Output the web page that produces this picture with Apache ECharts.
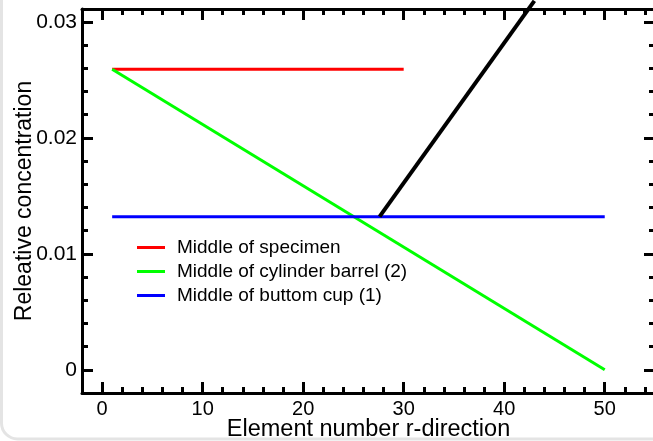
<!DOCTYPE html>
<html>
<head>
<meta charset="utf-8">
<script src="https://cdn.jsdelivr.net/npm/echarts@6/dist/echarts.min.js"></script>
<style>html,body{margin:0;padding:0;background:#fff;}#c{width:653px;height:441px;}</style>
</head>
<body>
<div id="c"></div>
<script>
// Data
const specimenX = [1, 30];
const specimenY = [0.0259, 0.0259];
const barrelX = [1, 50];
const barrelY = [0.0259, 0.0];
const cupX = [1, 50];
const cupY = [0.0132, 0.0132];
const pointerX = [27.6, 43.0];
const pointerY = [0.0132, 0.0318];
const xMajorTicks = [0, 10, 20, 30, 40, 50];
const xMinorTicks = [2,4,6,8,12,14,16,18,22,24,26,28,32,34,36,38,42,44,46,48,52,54];
const yMajorTicks = [0, 0.01, 0.02, 0.03];
const yMinorTicks = [0.002,0.004,0.006,0.008,0.012,0.014,0.016,0.018,0.022,0.024,0.026,0.028];
const seriesNames = ['Middle of specimen', 'Middle of cylinder barrel (2)', 'Middle of buttom cup (1)'];

const pair = (xs, ys) => xs.map((x, i) => [x, ys[i]]);
const FONT = 'Liberation Sans, Arial, Helvetica, sans-serif';
const X_MIN = -2, X_MAX = 55, Y_MIN = -0.002, Y_MAX = 0.0311;

function xAx(pos, ticks, len, show, extra) {
  return Object.assign({
    type: 'value', position: pos, min: X_MIN, max: X_MAX,
    axisLine: { show: show, onZero: false, lineStyle: { color: '#000', width: 3 } },
    splitLine: { show: false },
    axisTick: { show: true, inside: true, length: len, customValues: ticks, lineStyle: { color: '#000', width: 3 } },
    axisLabel: { show: false }
  }, extra || {});
}
function yAx(pos, ticks, len, show, extra) {
  return Object.assign({
    type: 'value', position: pos, min: Y_MIN, max: Y_MAX,
    axisLine: { show: show, onZero: false, lineStyle: { color: '#000', width: 3 } },
    splitLine: { show: false },
    axisTick: { show: true, inside: true, length: len, customValues: ticks, lineStyle: { color: '#000', width: 3 } },
    axisLabel: { show: false }
  }, extra || {});
}

const chart = echarts.init(document.getElementById('c'), null, { renderer: 'canvas' });
chart.setOption({
  animation: false,
  backgroundColor: '#fff',
  grid: { left: 82, right: -2, top: 9, bottom: 48, containLabel: false, outerBoundsMode: 'none' },
  graphic: [{
    type: 'rect', silent: true, z: -1,
    shape: { x: 1.5, y: -40, width: 720, height: 479, r: 16 },
    style: { fill: 'none', stroke: '#e4e4e4', lineWidth: 3 }
  }],
  xAxis: [
    xAx('bottom', xMajorTicks, 11, true, {
      name: 'Element number r-direction', nameLocation: 'middle', nameGap: 25, nameMoveOverlap: false,
      nameTextStyle: { fontFamily: FONT, fontSize: 23.5, color: '#000' },
      axisLabel: { show: true, customValues: xMajorTicks, margin: 6, fontFamily: FONT, fontSize: 20, color: '#000' }
    }),
    xAx('bottom', xMinorTicks, 6, false),
    xAx('top', xMajorTicks, 11, true),
    xAx('top', xMinorTicks, 6, false)
  ],
  yAxis: [
    yAx('left', yMajorTicks, 11, true, {
      name: 'Releative concentration', nameLocation: 'middle', nameGap: 46, nameMoveOverlap: false,
      nameTextStyle: { fontFamily: FONT, fontSize: 23, color: '#000' },
      axisLabel: { show: true, customValues: yMajorTicks, margin: 5, fontFamily: FONT, fontSize: 21, color: '#000',
        formatter: v => (v === 0 ? '0' : String(Math.round(v * 1000) / 1000)) }
    }),
    yAx('left', yMinorTicks, 6, false),
    yAx('right', yMajorTicks, 11, true),
    yAx('right', yMinorTicks, 6, false)
  ],
  legend: {
    show: true, data: seriesNames, orient: 'vertical', left: 137, top: 238, padding: 0,
    itemWidth: 28, itemHeight: 14, itemGap: 5,
    icon: 'path://M0,6L28,6L28,9L0,9Z',
    textStyle: { fontFamily: FONT, fontSize: 19, color: '#000', lineHeight: 19, padding: [0, 0, 0, 7] }
  },
  series: [
    { name: seriesNames[0], type: 'line', data: pair(specimenX, specimenY), symbol: 'none', color: '#ff0000', lineStyle: { width: 3, color: '#ff0000' } },
    { name: seriesNames[1], type: 'line', data: pair(barrelX, barrelY), symbol: 'none', color: '#00ff00', lineStyle: { width: 3, color: '#00ff00' } },
    { name: seriesNames[2], type: 'line', data: pair(cupX, cupY), symbol: 'none', color: '#0000ff', lineStyle: { width: 3, color: '#0000ff' } },
    { name: 'pointer', type: 'line', data: pair(pointerX, pointerY), symbol: 'none', clip: false, color: '#000', lineStyle: { width: 4, color: '#000' }, z: 5 }
  ]
});
</script>
</body>
</html>
